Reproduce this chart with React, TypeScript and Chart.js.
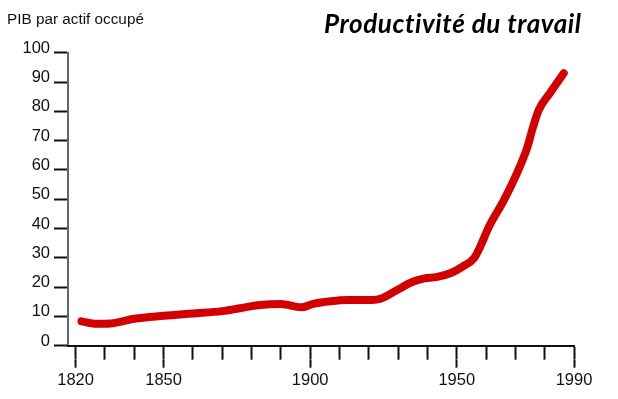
import React, { useEffect, useRef } from "react";
import { Chart, registerables } from "chart.js";

Chart.register(...registerables);

const years = [1822, 1827, 1832, 1840, 1850, 1860, 1870, 1876, 1883, 1890, 1897, 1901, 1907, 1913, 1921, 1924, 1930, 1935, 1939, 1943, 1948, 1952, 1956, 1958, 1961, 1966, 1970, 1974, 1976, 1978, 1982, 1986.5];
const productivity = [8.3, 7.5, 7.6, 9.2, 10.2, 11.0, 11.8, 12.8, 13.9, 14.2, 13.1, 14.3, 15.2, 15.6, 15.6, 16.0, 19.2, 21.8, 23.0, 23.4, 24.8, 27.0, 30.0, 33.8, 40.6, 49.5, 57.7, 67.5, 74.5, 80.5, 86.5, 93];
const minorTickYears = [1820, 1830, 1840, 1850, 1860, 1870, 1880, 1890, 1900, 1910, 1920, 1930, 1940, 1950, 1960, 1970, 1980, 1990];
const labeledYears = [1820, 1850, 1900, 1950, 1990];
const yAxisTitle = "PIB par actif occupé";
const chartTitle = "Productivité du travail";

const X_MIN = 1817.4;
const X_MAX = 1990;
const FONT = "'Liberation Sans', Arial, Helvetica, sans-serif";

export default function App() {
  const ref = useRef<HTMLCanvasElement | null>(null);

  useEffect(() => {
    if (!ref.current) return;
    const zeroPad = (s: any) => {
      s.paddingTop = 0;
      s.paddingBottom = 0;
      s.paddingLeft = 0;
      s.paddingRight = 0;
    };
    const chart = new Chart(ref.current, {
      type: "line",
      data: {
        datasets: [
          {
            data: years.map((x, i) => ({ x, y: productivity[i] })),
            borderColor: "#d20000",
            borderWidth: 8,
            pointRadius: 0,
            borderCapStyle: "round",
            borderJoinStyle: "round",
            cubicInterpolationMode: "monotone",
            xAxisID: "x",
            yAxisID: "y",
            clip: false as any,
          },
        ],
      },
      options: {
        animation: false,
        responsive: false,
        maintainAspectRatio: false,
        layout: { padding: { left: 7, right: 44, top: 52.7, bottom: 0 } },
        plugins: { legend: { display: false }, tooltip: { enabled: false }, title: { display: false } },
        scales: {
          y: {
            type: "linear",
            position: "left",
            min: 0,
            max: 100,
            ticks: {
              stepSize: 10,
              color: "#111",
              font: { family: FONT, size: 16.5 },
              padding: 4,
              labelOffset: -4.5,
            },
            grid: { drawOnChartArea: false, drawTicks: true, tickLength: 14, tickWidth: 2, tickColor: "#111" },
            border: { display: true, color: "#666", width: 2 },
            afterFit: (s: any) => {
              s.width = 61;
              zeroPad(s);
            },
          },
          x: {
            type: "linear",
            position: "bottom",
            weight: 0,
            min: X_MIN,
            max: X_MAX,
            ticks: { display: false },
            afterBuildTicks: (s: any) => {
              s.ticks = minorTickYears.map((v) => ({ value: v }));
            },
            grid: { drawOnChartArea: false, drawTicks: true, tickLength: 14, tickWidth: 2, tickColor: "#111" },
            border: { display: true, color: "#111", width: 2 },
            afterFit: (s: any) => {
              s.height = 14;
              zeroPad(s);
            },
          },
          x2: {
            type: "linear",
            position: "bottom",
            weight: 1,
            min: X_MIN,
            max: X_MAX,
            afterBuildTicks: (s: any) => {
              s.ticks = labeledYears.map((v) => ({ value: v }));
            },
            ticks: {
              color: "#111",
              font: { family: FONT, size: 16.5 },
              padding: 3,
              autoSkip: false,
              maxRotation: 0,
              minRotation: 0,
              callback: (v: any) => String(v),
            },
            grid: { drawOnChartArea: false, drawTicks: true, tickLength: 8, tickWidth: 2, tickColor: "#111" },
            border: { display: false },
            afterFit: (s: any) => {
              s.height = 399 - 345.7 - 14;
              zeroPad(s);
            },
          },
        },
      } as any,
    });
    return () => chart.destroy();
  }, []);

  return (
    <div style={{ position: "fixed", left: 0, top: 0, width: 618, height: 399, background: "#fff" }}>
      <canvas ref={ref} width={618} height={399} style={{ position: "absolute", left: 0, top: 0, width: 618, height: 399 }} />
      <div
        style={{
          position: "absolute",
          left: 7,
          top: 10,
          fontFamily: FONT,
          fontSize: 15.3,
          lineHeight: "18px",
          color: "#111",
          whiteSpace: "nowrap",
        }}
      >
        {yAxisTitle}
      </div>
      <div
        style={{
          position: "absolute",
          left: 324,
          top: 7,
          fontFamily: "Lato, 'Open Sans', sans-serif",
          fontSize: 26,
          fontWeight: 700,
          fontStyle: "italic",
          letterSpacing: "0.6px",
          fontVariantLigatures: "none",
          lineHeight: "32px",
          color: "#000",
          whiteSpace: "nowrap",
        }}
      >
        {chartTitle}
      </div>
    </div>
  );
}
